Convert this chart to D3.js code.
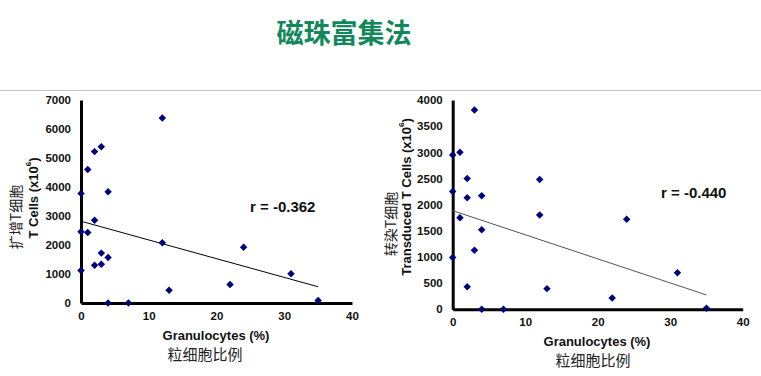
<!DOCTYPE html>
<html><head><meta charset="utf-8">
<script src="https://cdn.jsdelivr.net/npm/d3@7/dist/d3.min.js"></script>
<style>body{margin:0;background:#fff}svg{display:block}</style>
</head><body>
<svg id="c" width="761" height="376"></svg>
<script>
const title = "磁珠富集法";
// Left chart: expanded T cells
const leftX = [0,0,0,1,1,2,2,2,3,3,3,4,4,4,7,12,12,13,22,24,31,35];
const leftY = [3780,2460,1120,4600,2430,5220,2850,1300,5390,1720,1340,3840,1570,0,0,6380,2080,440,640,1920,1010,90];
const leftTrendX = [0,35];
const leftTrendY = [2820,560];
const leftTicksY = [0,1000,2000,3000,4000,5000,6000,7000];
const leftR = "r = -0.362";
// Right chart: transduced T cells
const rightX = [0,0,0,1,1,2,2,2,3,3,4,4,4,7,12,12,13,22,24,31,35];
const rightY = [2950,2250,990,3000,1750,2500,2130,430,3810,1130,2170,1520,0,0,2480,1800,395,215,1720,700,20];
const rightTrendX = [0,35];
const rightTrendY = [1885,274];
const rightTicksY = [0,500,1000,1500,2000,2500,3000,3500,4000];
const rightR = "r = -0.440";
const ticksX = [0,10,20,30,40];
const xTitle = "Granulocytes (%)";
const xTitleCn = "粒细胞比例";

const svg = d3.select("#c");
const latin = "'Liberation Sans', Arial, sans-serif";
const cjk = "'Noto Sans CJK SC', sans-serif";

svg.append("text").attr("x",344).attr("y",31).attr("text-anchor","middle")
  .attr("dominant-baseline","central").attr("font-family",cjk).attr("font-weight","bold")
  .attr("font-size",27).attr("fill","#11875a").text(title);

svg.append("line").attr("x1",0).attr("x2",761).attr("y1",90.5).attr("y2",90.5)
  .attr("stroke","#c4c4c4").attr("stroke-width",1);

function panel(cfg){
  const x = d3.scaleLinear().domain([0,40]).range(cfg.xr);
  const y = d3.scaleLinear().domain(cfg.yd).range(cfg.yr);
  const g = svg.append("g");
  const ax = g.append("g").attr("transform",`translate(0,${cfg.yr[0]})`)
    .call(d3.axisBottom(x).tickValues(ticksX).tickFormat(d3.format("d")).tickSize(0).tickPadding(9));
  const ay = g.append("g").attr("transform",`translate(${cfg.xr[0]},0)`)
    .call(d3.axisLeft(y).tickValues(cfg.ticks).tickFormat(d3.format("d")).tickSize(0).tickPadding(10));
  [ax,ay].forEach(a=>{
    a.select(".domain").attr("stroke","#000").attr("stroke-width",3);
    a.selectAll("text").attr("font-family",latin).attr("font-weight","bold")
      .attr("font-size",11.5).attr("fill","#111");
  });
  // trend
  g.append("line").attr("x1",x(cfg.tx[0])).attr("y1",y(cfg.ty[0]))
    .attr("x2",x(cfg.tx[1])).attr("y2",y(cfg.ty[1]))
    .attr("stroke",cfg.tc).attr("stroke-width",1);
  // points (square rotated 45deg)
  const sym = d3.symbol().type(d3.symbolSquare).size(28);
  g.selectAll("path.pt").data(cfg.xs.map((v,i)=>[v,cfg.ys[i]])).join("path")
    .attr("class","pt").attr("d",sym)
    .attr("transform",d=>`translate(${x(d[0])},${y(d[1])}) rotate(45)`)
    .attr("fill","#00007a");
  // r label
  g.append("text").attr("x",cfg.rx).attr("y",cfg.ry).attr("dominant-baseline","central")
    .attr("font-family",latin).attr("font-weight","bold").attr("font-size",15).attr("fill","#111").text(cfg.r);
  // x titles
  g.append("text").attr("x",cfg.xtx).attr("y",cfg.xty).attr("text-anchor","middle")
    .attr("font-family",latin).attr("font-weight","bold").attr("font-size",13).attr("fill","#111").text(xTitle);
  g.append("text").attr("x",cfg.xcx).attr("y",cfg.xcy).attr("text-anchor","middle")
    .attr("font-family",cjk).attr("font-size",15).attr("fill","#222").text(xTitleCn);
  // y titles
  const yt = g.append("text").attr("transform",`translate(${cfg.ytx},${cfg.yty}) rotate(-90)`)
    .attr("text-anchor","middle").attr("dominant-baseline","central")
    .attr("font-family",latin).attr("font-weight","bold").attr("font-size",13).attr("fill","#111");
  yt.append("tspan").text(cfg.yTitle+" (x10");
  yt.append("tspan").attr("font-size",8).attr("dy",-5).text("6");
  yt.append("tspan").attr("dy",5).text(")");
  g.append("text").attr("transform",`translate(${cfg.ycx},${cfg.ycy}) rotate(-90)`)
    .attr("text-anchor","middle").attr("dominant-baseline","central")
    .attr("font-family",cjk).attr("font-size",14).attr("fill","#222").text(cfg.yCn);
}

panel({xr:[81,352], yd:[0,7000], yr:[303,100], ticks:leftTicksY, xs:leftX, ys:leftY,
  tx:leftTrendX, ty:leftTrendY, tc:"#000", r:leftR, rx:250, ry:206,
  xtx:216, xty:340, xcx:205, xcy:360, ytx:33, yty:198, ycx:15, ycy:217,
  yTitle:"T Cells", yCn:"扩增T细胞"});
panel({xr:[452.7,742.7], yd:[0,4000], yr:[309.3,100], ticks:rightTicksY, xs:rightX, ys:rightY,
  tx:rightTrendX, ty:rightTrendY, tc:"#555", r:rightR, rx:661, ry:192,
  xtx:597, xty:346, xcx:593, xcy:366, ytx:406, yty:197, ycx:390, ycy:224,
  yTitle:"Transduced T Cells", yCn:"转染T细胞"});
</script>
</body></html>
